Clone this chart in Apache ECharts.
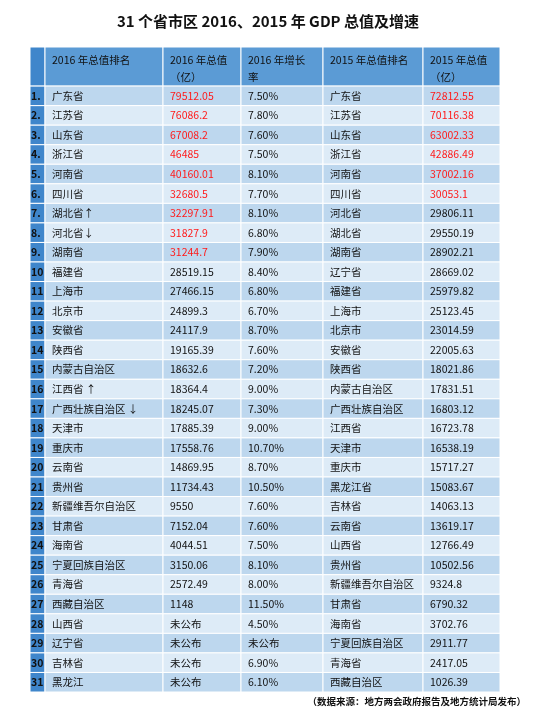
<!DOCTYPE html>
<html>
<head>
<meta charset="utf-8">
<script src="https://cdn.jsdelivr.net/npm/echarts@6/dist/echarts.min.js"></script>
<style>html,body{margin:0;padding:0;background:#fff}#main{width:536px;height:720px}</style>
</head>
<body>
<div id="main"></div>
<script>
var headers = ['', '2016 年总值排名', '2016 年总值\n（亿）', '2016 年增长\n率', '2015 年总值排名', '2015 年总值\n（亿）'];
var ranks = ['1.','2.','3.','4.','5.','6.','7.','8.','9.','10','11','12','13','14','15','16','17','18','19','20','21','22','23','24','25','26','27','28','29','30','31'];
var names2016 = ['广东省','江苏省','山东省','浙江省','河南省','四川省','湖北省↑','河北省↓','湖南省','福建省','上海市','北京市','安徽省','陕西省','内蒙古自治区','江西省 ↑','广西壮族自治区 ↓','天津市','重庆市','云南省','贵州省','新疆维吾尔自治区','甘肃省','海南省','宁夏回族自治区','青海省','西藏自治区','山西省','辽宁省','吉林省','黑龙江'];
var gdp2016 = ['79512.05','76086.2','67008.2','46485','40160.01','32680.5','32297.91','31827.9','31244.7','28519.15','27466.15','24899.3','24117.9','19165.39','18632.6','18364.4','18245.07','17885.39','17558.76','14869.95','11734.43','9550','7152.04','4044.51','3150.06','2572.49','1148','未公布','未公布','未公布','未公布'];
var growth2016 = ['7.50%','7.80%','7.60%','7.50%','8.10%','7.70%','8.10%','6.80%','7.90%','8.40%','6.80%','6.70%','8.70%','7.60%','7.20%','9.00%','7.30%','9.00%','10.70%','8.70%','10.50%','7.60%','7.60%','7.50%','8.10%','8.00%','11.50%','4.50%','未公布','6.90%','6.10%'];
var names2015 = ['广东省','江苏省','山东省','浙江省','河南省','四川省','河北省','湖北省','湖南省','辽宁省','福建省','上海市','北京市','安徽省','陕西省','内蒙古自治区','广西壮族自治区','江西省','天津市','重庆市','黑龙江省','吉林省','云南省','山西省','贵州省','新疆维吾尔自治区','甘肃省','海南省','宁夏回族自治区','青海省','西藏自治区'];
var gdp2015 = ['72812.55','70116.38','63002.33','42886.49','37002.16','30053.1','29806.11','29550.19','28902.21','28669.02','25979.82','25123.45','23014.59','22005.63','18021.86','17831.51','16803.12','16723.78','16538.19','15717.27','15083.67','14063.13','13619.17','12766.49','10502.56','9324.8','6790.32','3702.76','2911.77','2417.05','1026.39'];
var red2016 = 9, red2015 = 6;

// layout
var colEdges = [0, 15, 133, 211, 293, 393, 470];
var columns = [ranks, names2016, gdp2016, growth2016, names2015, gdp2015];

var cells = [];
for (var c = 0; c < 6; c++) {
    cells.push([c, 0, headers[c]]);
    for (var r = 0; r < 31; r++) cells.push([c, r + 1, columns[c][r]]);
}

function renderItem(params, api) {
    var c = api.value(0), r = api.value(1), txt = cells[params.dataIndex][2];
    var y0 = r === 0 ? 0 : r + 1, y1 = r === 0 ? 2 : r + 2;
    var p0 = api.coord([colEdges[c], y0]);
    var p1 = api.coord([colEdges[c + 1], y1]);
    var fill;
    if (c === 0) fill = '#3F86CB';
    else if (r === 0) fill = '#5B9BD5';
    else fill = r % 2 === 1 ? '#BDD7EE' : '#DDEBF7';
    var color = '#111';
    if ((c === 2 && r >= 1 && r <= red2016) || (c === 5 && r >= 1 && r <= red2015)) color = '#FF1A1A';
    return {
        type: 'group',
        children: [{
            type: 'rect',
            shape: { x: p0[0], y: p0[1], width: p1[0] - p0[0], height: p1[1] - p0[1] },
            style: { fill: fill, stroke: '#fff', lineWidth: 1 }
        }, {
            type: 'text',
            style: {
                x: p0[0] + (c === 0 ? 1 : 7),
                y: r === 0 ? p0[1] + 5 : (p0[1] + p1[1]) / 2,
                text: txt,
                fill: color,
                font: (c === 0 ? 'bold ' : '') + '10.5px "Noto Sans CJK SC", sans-serif',
                lineHeight: 17,
                verticalAlign: r === 0 ? 'top' : 'middle',
                align: 'left'
            }
        }]
    };
}

var myChart = echarts.init(document.getElementById('main'));
var option = {
    backgroundColor: '#fff',
    title: {
        text: '31 个省市区 2016、2015 年 GDP 总值及增速',
        left: 'center', top: 9,
        textStyle: { fontSize: 15, fontWeight: 'bold', color: '#111', fontFamily: '"Noto Sans CJK SC", sans-serif' }
    },
    graphic: [{
        type: 'text', right: 10, top: 697,
        style: { text: '（数据来源：地方两会政府报告及地方统计局发布）', fill: '#111', font: 'bold 9.5px "Noto Sans CJK SC", sans-serif' }
    }],
    grid: { left: 30, right: 36, top: 47, bottom: 28 },
    xAxis: { type: 'value', min: 0, max: 470, show: false },
    yAxis: { type: 'value', min: 0, max: 33, inverse: true, show: false },
    series: [{
        type: 'custom',
        renderItem: renderItem,
        data: cells.map(function (d) { return [d[0], d[1]]; }),
        animation: false
    }]
};
option && myChart.setOption(option);
</script>
</body>
</html>
